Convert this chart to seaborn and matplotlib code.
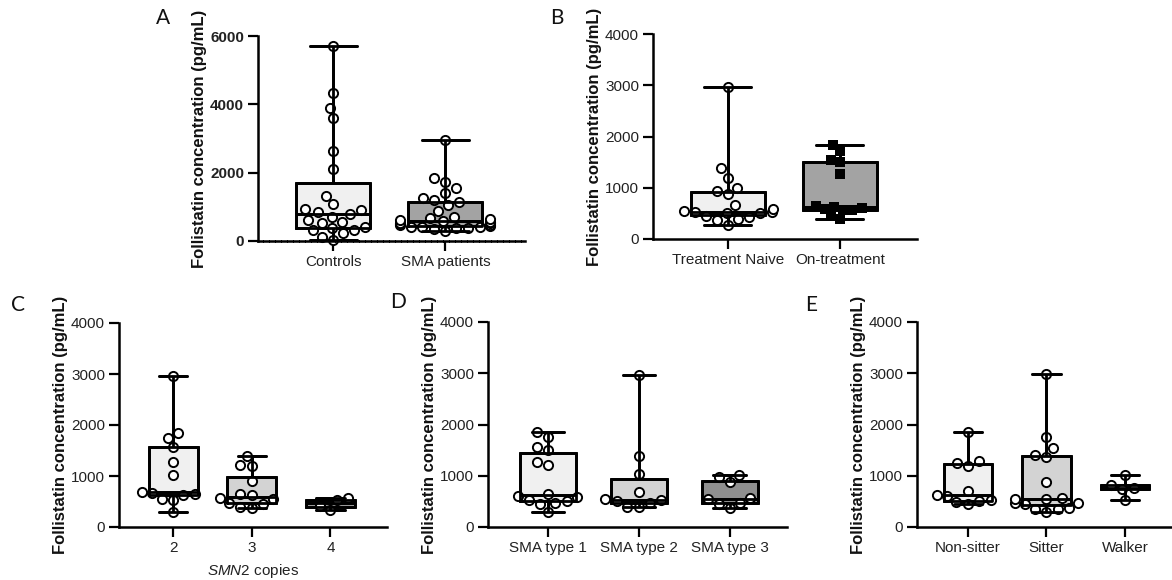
import matplotlib
matplotlib.use("Agg")
import matplotlib.pyplot as plt
import seaborn as sns
import pandas as pd

# ---------------- data (pg/mL) ----------------
a_groups = ["Controls", "SMA patients"]
a_controls = [30, 130, 220, 320, 330, 370, 410, 540, 550, 620, 710, 790, 840, 910,
              930, 1070, 1320, 2100, 2630, 3590, 3900, 4320, 5700]
a_sma = [280, 360, 380, 390, 400, 410, 420, 440, 460, 480, 500, 520, 540, 570, 600,
         620, 640, 660, 700, 890, 1050, 1150, 1200, 1250, 1400, 1540, 1740, 1840, 2970]

b_groups = ["Treatment Naive", "On-treatment"]
b_naive = [280, 370, 400, 420, 450, 500, 510, 520, 530, 540, 580, 660, 870, 940,
           1000, 1200, 1380, 2970]
b_on = [390, 440, 560, 570, 580, 600, 620, 640, 1270, 1500, 1550, 1710, 1840]

c_groups = ["2", "3", "4"]
c_copies2 = [290, 520, 540, 630, 640, 660, 695, 1010, 1280, 1560, 1750, 1840, 2970]
c_copies3 = [380, 385, 450, 470, 540, 560, 620, 640, 900, 1200, 1220, 1400]
c_copies4 = [340, 420, 520, 570]

d_groups = ["SMA type 1", "SMA type 2", "SMA type 3"]
d_type1 = [290, 450, 460, 500, 520, 590, 600, 640, 1210, 1270, 1500, 1570, 1760, 1850]
d_type2 = [390, 400, 470, 500, 520, 540, 690, 1030, 1390, 2970]
d_type3 = [370, 440, 470, 540, 570, 880, 980, 1020]

e_groups = ["Non-sitter", "Sitter", "Walker"]
e_nonsitter = [450, 480, 500, 520, 600, 620, 700, 1200, 1240, 1280, 1850]
e_sitter = [290, 350, 360, 370, 450, 460, 470, 540, 550, 560, 880, 1370, 1400, 1550,
            1750, 2980]
e_walker = [530, 740, 770, 820, 1020]

ylabel_text = "Follistatin concentration (pg/mL)"

# ---------------- style ----------------
sns.set_theme(style="ticks")
plt.rcParams["font.family"] = ["Liberation Sans", "DejaVu Sans"]
plt.rcParams["mathtext.fontset"] = "custom"
plt.rcParams["mathtext.it"] = "Liberation Sans:italic"
plt.rcParams["mathtext.rm"] = "Liberation Sans"

W, H = 1172, 580
fig = plt.figure(figsize=(W / 100, H / 100), dpi=100)


def add_ax(x0, x1, ytop, ybot):
    return fig.add_axes([x0 / W, 1 - ybot / H, (x1 - x0) / W, (ybot - ytop) / H])


def panel(ax, groups, values, colors, markers, ymax, yticks, xlim, width, capw,
          bold_ticks=False, dotted_base=False):
    df = pd.DataFrame({
        "group": [g for g, v in zip(groups, values) for _ in v],
        "value": [x for v in values for x in v],
    })
    pal = dict(zip(groups, colors))
    # filled boxes (underneath the points)
    sns.boxplot(data=df, x="group", y="value", hue="group", order=groups,
                hue_order=groups, palette=pal, saturation=1, whis=(0, 100),
                width=width, linecolor="black", linewidth=2.0, showfliers=False,
                legend=False, ax=ax, capwidths=capw, zorder=1)
    # points
    for g, m in zip(groups, markers):
        sub = df[df["group"] == g]
        if m == "o":
            sns.swarmplot(data=sub, x="group", y="value", order=groups, ax=ax,
                          marker="o", size=6.6, color="white", edgecolor="black",
                          linewidth=1.4, zorder=2, warn_thresh=1, clip_on=False)
        else:
            sns.swarmplot(data=sub, x="group", y="value", order=groups, ax=ax,
                          marker="s", size=6.6, color="black", edgecolor="black",
                          linewidth=0, zorder=2, warn_thresh=1, clip_on=False)
    # box outlines, whiskers and medians on top of the points
    sns.boxplot(data=df, x="group", y="value", hue="group", order=groups,
                hue_order=groups, palette={g: "black" for g in groups},
                fill=False, whis=(0, 100), width=width, linewidth=2.0,
                showfliers=False, legend=False, ax=ax, capwidths=capw, zorder=3)

    ax.set_ylim(0, ymax)
    ax.set_yticks(yticks)
    ax.set_xlim(*xlim)
    ax.set_xlabel("")
    sns.despine(ax=ax)
    for s in ("left", "bottom"):
        ax.spines[s].set_linewidth(1.8)
        ax.spines[s].set_color("black")
    if dotted_base:
        ax.spines["bottom"].set_linestyle((0, (1.6, 0.8)))
    ax.tick_params(axis="both", width=1.6, length=7, color="black",
                   labelsize=11, labelcolor="#222222", pad=3)
    if bold_ticks:
        for t in ax.get_yticklabels():
            t.set_fontweight("bold")
    ax.set_ylabel(ylabel_text, fontsize=12, fontweight="bold", color="#111111")
    axw = ax.get_position().width * W
    ax.yaxis.set_label_coords(-51 / axw, 0.5)


# Panel A
axA = add_ax(258, 525, 36, 241)
panel(axA, a_groups, [a_controls, a_sma], ["#f0f0f0", "#a3a3a3"], ["o", "o"],
      6000, [0, 2000, 4000, 6000], (-0.67, 1.71), 0.66, 0.42,
      bold_ticks=True, dotted_base=True)

# Panel B
axB = add_ax(653, 917, 34, 239)
panel(axB, b_groups, [b_naive, b_on], ["#f0f0f0", "#a3a3a3"], ["o", "s"],
      4000, [0, 1000, 2000, 3000, 4000], (-0.67, 1.69), 0.66, 0.42)

# Panel C
axC = add_ax(119, 387, 323, 527)
panel(axC, c_groups, [c_copies2, c_copies3, c_copies4],
      ["#f0f0f0", "#d3d3d3", "#9a9a9a"], ["o", "o", "o"],
      4000, [0, 1000, 2000, 3000, 4000], (-0.69, 2.72), 0.62, 0.36)
axC.set_xlabel(r"$\it{SMN2}$ copies", fontsize=11, color="#222222", labelpad=5)

# Panel D
axD = add_ax(488, 787, 322, 527)
panel(axD, d_groups, [d_type1, d_type2, d_type3],
      ["#f0f0f0", "#d3d3d3", "#8f8f8f"], ["o", "o", "o"],
      4000, [0, 1000, 2000, 3000, 4000], (-0.66, 2.63), 0.62, 0.36)

# Panel E
axE = add_ax(917, 1172, 322, 527)
panel(axE, e_groups, [e_nonsitter, e_sitter, e_walker],
      ["#f0f0f0", "#d3d3d3", "#9a9a9a"], ["o", "o", "o"],
      4000, [0, 1000, 2000, 3000, 4000], (-0.65, 2.6), 0.62, 0.36)

# panel letters
for letter, (px, py) in {"A": (163, 18), "B": (557, 18), "C": (18, 305),
                         "D": (398, 302), "E": (811, 305)}.items():
    fig.text(px / W, 1 - py / H, letter, fontsize=15, family=["Lato", "DejaVu Sans"],
             ha="center", va="center", color="#111111")

fig.savefig("out.png", dpi=100)
